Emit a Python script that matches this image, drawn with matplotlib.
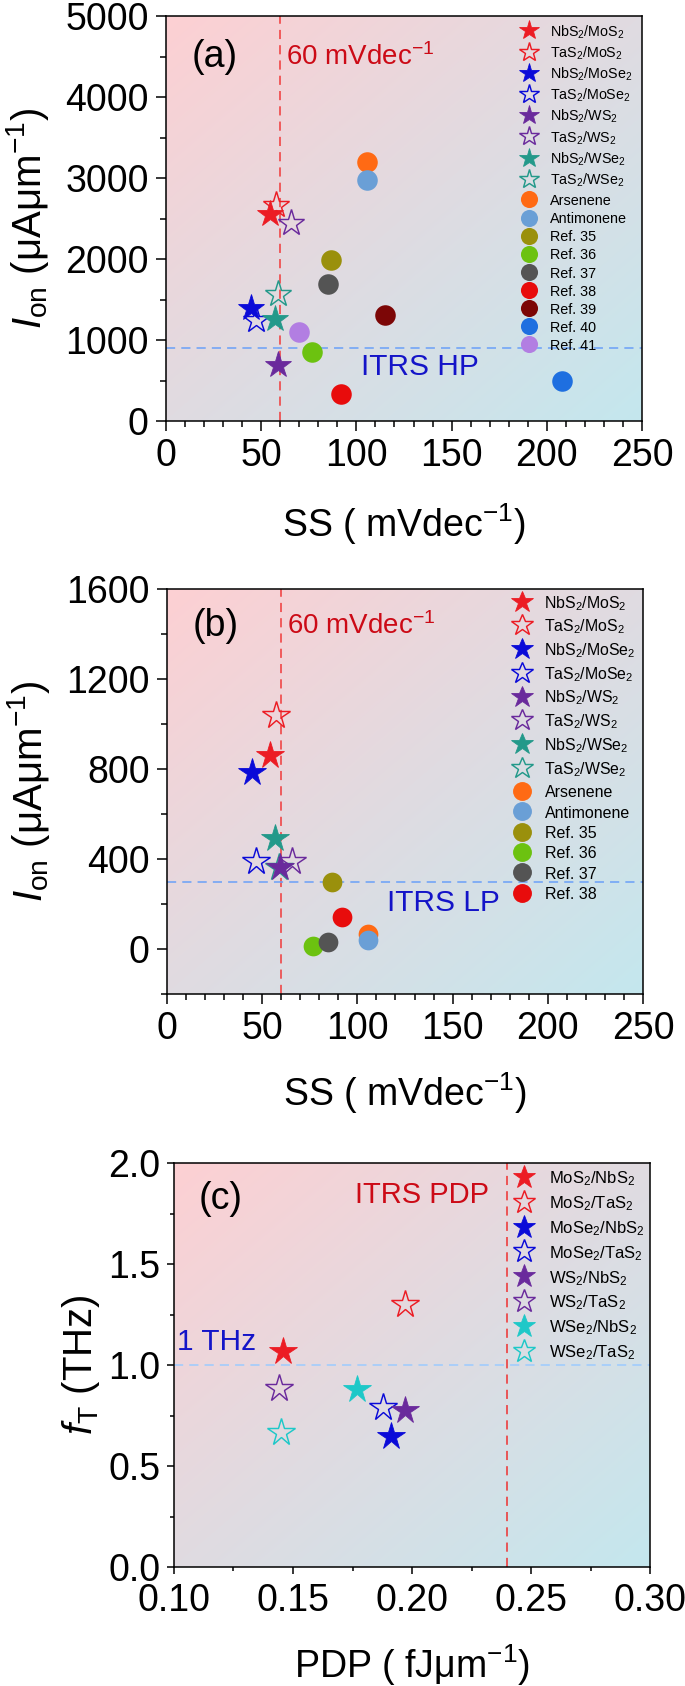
import numpy as np
import matplotlib
matplotlib.use('Agg')
import matplotlib.pyplot as plt
from matplotlib.colors import LinearSegmentedColormap
from matplotlib.ticker import MultipleLocator, FormatStrFormatter
from matplotlib.legend import Legend

plt.rcParams['font.family'] = ['Liberation Sans', 'DejaVu Sans']
plt.rcParams['mathtext.fontset'] = 'custom'
plt.rcParams['mathtext.rm'] = 'Liberation Sans'
plt.rcParams['mathtext.it'] = 'Liberation Sans:italic'
plt.rcParams['mathtext.bf'] = 'Liberation Sans:bold'

# ---------------- data ----------------
star_labels_ab = ['NbS$_2$/MoS$_2$', 'TaS$_2$/MoS$_2$', 'NbS$_2$/MoSe$_2$', 'TaS$_2$/MoSe$_2$',
                  'NbS$_2$/WS$_2$', 'TaS$_2$/WS$_2$', 'NbS$_2$/WSe$_2$', 'TaS$_2$/WSe$_2$']
star_colors_ab = ['#ec1c24', '#ec1c24', '#0a0ad8', '#0a0ad8', '#6a2a9c', '#6a2a9c', '#23998a', '#23998a']
star_filled = [True, False, True, False, True, False, True, False]

a_star_ss = [54.5, 57.8, 44.7, 47.2, 59.0, 65.8, 57.1, 58.8]
a_star_ion = [2550, 2670, 1397, 1250, 697, 2445, 1256, 1565]

circ_labels = ['Arsenene', 'Antimonene', 'Ref. 35', 'Ref. 36', 'Ref. 37', 'Ref. 38',
               'Ref. 39', 'Ref. 40', 'Ref. 41']
circ_colors = ['#ff6a14', '#6a9fd6', '#9a900c', '#6cc210', '#545454', '#e80c0c',
               '#7c0606', '#1e6fe0', '#b27ee2']
a_circ_ss = [105.8, 105.8, 86.8, 76.9, 85.0, 92.0, 114.8, 208.1, 69.9]
a_circ_ion = [3198, 2973, 1992, 846, 1693, 339, 1303, 499, 1100]

b_star_ss = [54.3, 57.5, 44.5, 46.8, 59.2, 65.8, 56.6, 59.0]
b_star_ion = [864, 1041, 788, 392, 365, 391, 495, 366]
b_circ_ss = [105.6, 105.6, 86.6, 76.7, 84.8, 91.7]
b_circ_ion = [68, 42, 297, 13, 32, 144]

c_labels = ['MoS$_2$/NbS$_2$', 'MoS$_2$/TaS$_2$', 'MoSe$_2$/NbS$_2$', 'MoSe$_2$/TaS$_2$',
            'WS$_2$/NbS$_2$', 'WS$_2$/TaS$_2$', 'WSe$_2$/NbS$_2$', 'WSe$_2$/TaS$_2$']
c_colors = ['#ec1c24', '#ec1c24', '#0a0ad8', '#0a0ad8', '#6a2a9c', '#6a2a9c', '#1ec8c8', '#1ec8c8']
c_pdp = [0.146, 0.197, 0.191, 0.188, 0.197, 0.144, 0.177, 0.145]
c_ft = [1.07, 1.30, 0.65, 0.79, 0.775, 0.885, 0.883, 0.668]

ss_limit = 60
itrs_hp = 900
itrs_lp = 300
pdp_limit = 0.24
ft_limit = 1.0

# ---------------- figure ----------------
W, H = 685, 1686
fig = plt.figure(figsize=(W / 100, H / 100), dpi=100)

def frac(l, t, r, b):
    return [l / W, 1 - b / H, (r - l) / W, (b - t) / H]

ax_a = fig.add_axes(frac(166, 16, 642, 421))
ax_b = fig.add_axes(frac(167, 589, 643, 994))
ax_c = fig.add_axes(frac(174, 1163, 650, 1567))

bg = LinearSegmentedColormap.from_list('bg', ['#fdd0d3', '#e0dbe1', '#c4e7ee'])
gx, gy = np.meshgrid(np.linspace(0, 1, 200), np.linspace(0, 1, 200))
grad = (gx + gy) / 2

RED_TXT = '#cc0a16'
BLUE_TXT = '#1414c8'

def style(ax, xlim, ylim, xmaj, xmin, ymaj, ymin, xfmt, yfmt, lmaj, lmin, xpad=5):
    ax.imshow(grad, cmap=bg, extent=(xlim[0], xlim[1], ylim[0], ylim[1]), origin='upper',
              aspect='auto', zorder=0, interpolation='bilinear')
    ax.set_xlim(*xlim)
    ax.set_ylim(*ylim)
    ax.xaxis.set_major_locator(MultipleLocator(xmaj))
    ax.xaxis.set_minor_locator(MultipleLocator(xmin))
    ax.yaxis.set_major_locator(MultipleLocator(ymaj))
    ax.yaxis.set_minor_locator(MultipleLocator(ymin))
    ax.xaxis.set_major_formatter(FormatStrFormatter(xfmt))
    ax.yaxis.set_major_formatter(FormatStrFormatter(yfmt))
    ax.tick_params(which='major', direction='out', length=lmaj, width=1.1, labelsize=27, pad=5)
    ax.tick_params(axis='x', which='major', pad=xpad)
    ax.tick_params(which='minor', direction='out', length=lmin, width=1.1)
    ax.tick_params(top=False, right=False, which='both')
    for s in ax.spines.values():
        s.set_linewidth(1.1)
        s.set_zorder(5)

def draw_stars(ax, xs, ys, colors, labels, ms=20, zorders=None):
    handles = []
    for i, (x, y, c, lab, f) in enumerate(zip(xs, ys, colors, labels, star_filled)):
        z = 3 if zorders is None else zorders[i]
        if f:
            h, = ax.plot([x], [y], ls='none', marker='*', ms=ms, mfc=c, mec=c, mew=0.6,
                         label=lab, zorder=z)
        else:
            h, = ax.plot([x], [y], ls='none', marker='*', ms=ms, mfc='none', mec=c, mew=1.05,
                         label=lab, zorder=z)
        handles.append(h)
    return handles

def draw_circles(ax, xs, ys, colors, labels, ms=14.8):
    handles = []
    for x, y, c, lab in zip(xs, ys, colors, labels):
        h, = ax.plot([x], [y], ls='none', marker='o', ms=ms, mfc=c, mec=c, mew=0,
                     label=lab, zorder=3)
        handles.append(h)
    return handles

def fit_legend(ax, handles, fs_pt, hms, first_xy, pitch, text_left, longest_w):
    """Legend whose marker column / row pitch / text width follow the reference (pixels)."""
    labels = [h.get_label() for h in handles]
    fx, fy = first_xy

    def make(fs, ls, pad, anchor):
        leg = Legend(ax, handles, labels, loc='upper left', bbox_to_anchor=anchor,
                     bbox_transform=fig.transFigure, frameon=False, fontsize=fs,
                     handleheight=1.0, labelspacing=ls, handlelength=1.4,
                     handletextpad=pad, borderpad=0, borderaxespad=0, numpoints=1)
        for h in leg.legend_handles:
            h.set_markersize(hms)
        leg.set_zorder(6)
        ax.add_artist(leg)
        fig.canvas.draw()
        return leg

    def measure(leg):
        r = fig.canvas.get_renderer()
        pts = np.array([h.get_transform().transform(h.get_xydata()[1]) for h in leg.legend_handles])
        ext = [t.get_window_extent(r) for t in leg.get_texts()]
        return pts, [e.width for e in ext], [e.x0 for e in ext]

    fs_px = fs_pt * 100 / 72
    anchor = ((fx - 0.7 * fs_px) / W, 1 - (fy - pitch / 2) / H)
    pad = 0.67
    leg = make(fs_pt, 0, pad, anchor)
    pts, widths, lefts = measure(leg)
    leg.remove()
    fs_pt = fs_pt * longest_w / max(widths)
    fs_px = fs_pt * 100 / 72

    leg = make(fs_pt, 0, pad, anchor)
    pts, widths, lefts = measure(leg)
    leg.remove()
    pitch0 = (pts[0, 1] - pts[-1, 1]) / (len(pts) - 1)
    ls = (pitch - pitch0) / fs_px

    leg = make(fs_pt, ls, pad, anchor)
    pts, widths, lefts = measure(leg)
    leg.remove()
    dx = fx - pts[0, 0]
    dy = (H - fy) - pts[0, 1]
    gap = lefts[0] - pts[0, 0]
    pad = pad + ((text_left - fx) - gap) / fs_px
    anchor = (anchor[0] + dx / W, anchor[1] + dy / H)
    return make(fs_pt, ls, pad, anchor)

dash_kw = dict(lw=1.1, zorder=2)

# ---------------- panel (a) ----------------
style(ax_a, (0, 250), (0, 5000), 50, 10, 1000, 500, '%d', '%d', 7.5, 4.3)
ax_a.axvline(ss_limit, color='#f03a3a', dashes=(6, 4), **dash_kw)
ax_a.axhline(itrs_hp, color='#6aa0f8', dashes=(6, 4), **dash_kw)
ha_s = draw_stars(ax_a, a_star_ss, a_star_ion, star_colors_ab, star_labels_ab)
ha_c = draw_circles(ax_a, a_circ_ss, a_circ_ion, circ_colors, circ_labels)
ax_a.text(25.5, 4494, '(a)', fontsize=27, ha='center', va='center', zorder=6)
ax_a.text(63, 4494, '60 mVdec$^{-1}$', fontsize=20, color=RED_TXT, ha='left', va='center', zorder=6)
ax_a.text(102.4, 667, 'ITRS HP', fontsize=21.5, color=BLUE_TXT, ha='left', va='center', zorder=6)
ax_a.set_xlabel('SS ( mVdec$^{-1}$)', fontsize=27, va='center')
ax_a.xaxis.set_label_coords(0.5, -0.254)
ax_a.set_ylabel(r'$I_{\mathrm{on}}$ (μAμm$^{-1}$)', fontsize=29, va='center')
ax_a.yaxis.set_label_coords(-0.29, 0.5)

# ---------------- panel (b) ----------------
style(ax_b, (0, 250), (-200, 1600), 50, 10, 400, 200, '%d', '%d', 7.5, 4.3)
ax_b.axvline(ss_limit, color='#f03a3a', dashes=(6, 4), **dash_kw)
ax_b.axhline(itrs_lp, color='#6aa0f8', dashes=(6, 4), **dash_kw)
zb = [3, 3, 3, 3, 3, 3, 3, 2.5]
hb_s = draw_stars(ax_b, b_star_ss, b_star_ion, star_colors_ab, star_labels_ab, ms=20.5, zorders=zb)
hb_c = draw_circles(ax_b, b_circ_ss, b_circ_ion, circ_colors[:6], circ_labels[:6], ms=14.2)
ax_b.text(25.5, 1436, '(b)', fontsize=27, ha='center', va='center', zorder=6)
ax_b.text(63, 1434, '60 mVdec$^{-1}$', fontsize=20, color=RED_TXT, ha='left', va='center', zorder=6)
ax_b.text(115.5, 204, 'ITRS LP', fontsize=21.5, color=BLUE_TXT, ha='left', va='center', zorder=6)
ax_b.set_xlabel('SS ( mVdec$^{-1}$)', fontsize=27, va='center')
ax_b.xaxis.set_label_coords(0.5, -0.245)
ax_b.set_ylabel(r'$I_{\mathrm{on}}$ (μAμm$^{-1}$)', fontsize=29, va='center')
ax_b.yaxis.set_label_coords(-0.29, 0.5)

# ---------------- panel (c) ----------------
style(ax_c, (0.10, 0.30), (0.0, 2.0), 0.05, 0.025, 0.5, 0.25, '%.2f', '%.1f', 4.8, 2.9, xpad=6.5)
ax_c.axvline(pdp_limit, color='#ee3030', dashes=(6, 4), **dash_kw)
ax_c.axhline(ft_limit, color='#9ccbff', dashes=(6, 4), **dash_kw)
hc_s = draw_stars(ax_c, c_pdp, c_ft, c_colors, c_labels, ms=20.5)
ax_c.text(0.1197, 1.82, '(c)', fontsize=27, ha='center', va='center', zorder=6)
ax_c.text(0.176, 1.84, 'ITRS PDP', fontsize=21, color=RED_TXT, ha='left', va='center', zorder=6)
ax_c.text(0.1012, 1.115, '1 THz', fontsize=21.5, color=BLUE_TXT, ha='left', va='center', zorder=6)
ax_c.set_xlabel('PDP ( fJμm$^{-1}$)', fontsize=27, va='center')
ax_c.xaxis.set_label_coords(0.5, -0.243)
ax_c.set_ylabel(r'$f_{\mathrm{T}}$ (THz)', fontsize=29, va='center')
ax_c.yaxis.set_label_coords(-0.195, 0.5)

# ---------------- legends (positions in figure pixels, from the top-left) ----------------
fit_legend(ax_a, ha_s, 10.5, 14.5, (529, 30.5), 21.2, 549.5, 82.5)
fit_legend(ax_a, ha_c, 10.5, 12.3, (529, 199.4), 18.1, 549.5, 77.5)
fit_legend(ax_b, hb_s, 11.8, 16.5, (521.6, 601.7), 23.7, 544.5, 91.4)
fit_legend(ax_b, hb_c, 11.8, 13.6, (521.6, 791.0), 20.3, 544.5, 85.5)
fit_legend(ax_c, hc_s, 12.4, 17.0, (524.3, 1176.7), 24.9, 548.6, 95.6)

fig.savefig('out.png', dpi=100)
